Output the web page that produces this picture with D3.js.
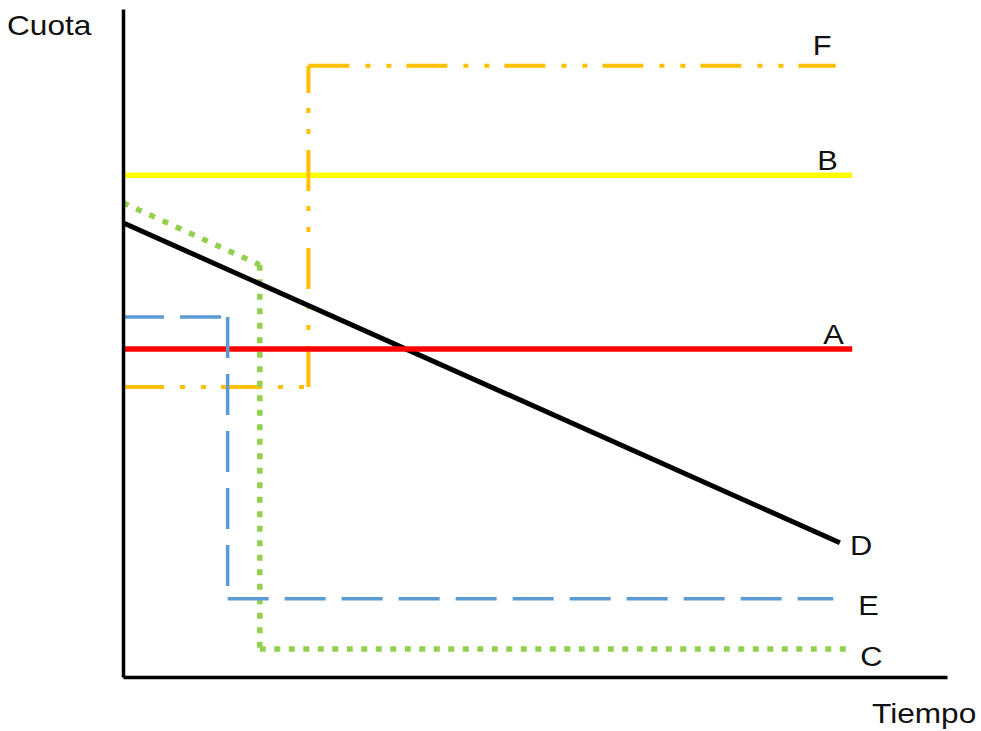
<!DOCTYPE html>
<head>
    <meta charset="utf-8">
    <script src="https://d3js.org/d3.v7.min.js"></script>
</head>
<style>
    body { margin: 0; background: #fff; }
    .axis text { display: none; }
    .axis path { stroke: #000; stroke-width: 3.5; }
    .lbl { font-family: "Liberation Sans", Arial, sans-serif; font-size: 28px; fill: #111; }
</style>
<body>
    <div id="chart"></div>
</body>

<script>
    // values (tiempo 0-100, cuota 0-100)
    const names = ["A", "B", "C", "D", "E", "F"];
    const lineA = [[0, 49.1], [88.5, 49.1]];
    const lineB = [[0, 75.1], [88.5, 75.1]];
    const lineC = [[0, 71.0], [16.6, 61.7], [16.6, 4.2], [88.5, 4.2]];
    const lineD = [[0, 68.0], [87.0, 20.1]];
    const lineE = [[0, 53.9], [12.7, 53.9], [12.7, 11.7], [86.2, 11.7]];
    const lineF = [[0, 43.4], [22.5, 43.4], [22.5, 91.5], [86.5, 91.5]];
    const xTitle = "Tiempo";
    const yTitle = "Cuota";

    const margin = {top: 9, right: 34, bottom: 54, left: 123},
        width = 981 - margin.left - margin.right,
        height = 731 - margin.top - margin.bottom;

    const svg = d3.select("#chart")
        .append("svg")
        .attr("width", 981)
        .attr("height", 731);

    const g = svg.append("g")
        .attr("transform", `translate(${margin.left},${margin.top})`);

    const x = d3.scaleLinear().domain([0, 100]).range([0, width]);
    const y = d3.scaleLinear().domain([0, 100]).range([height, 0]);

    // styles per line
    const styles = {
        A: {color: "#ff0000", w: 5.5, dash: null, dx: -29, dy: -5},
        B: {color: "#ffff00", w: 5.5, dash: null, dx: -35, dy: -5},
        C: {color: "#92d050", w: 5.5, dash: "6,8.5", dx: 8, dy: 17},
        D: {color: "#000000", w: 5, dash: null, dx: 10, dy: 12},
        E: {color: "#5b9bd5", w: 3.5, dash: "41,16", dx: 25, dy: 16},
        F: {color: "#ffc000", w: 4, dash: "41,16,5,16,5,15", dx: -23, dy: -11}
    };
    const lines = {A: lineA, B: lineB, C: lineC, D: lineD, E: lineE, F: lineF};

    const line = d3.line()
        .x(d => x(d[0]))
        .y(d => y(d[1]));

    // the dash pattern starts over at every corner, so each segment is its own path
    const drawOrder = ["B", "F", "C", "D", "A", "E"];
    drawOrder.forEach(n => {
        const s = styles[n];
        const pts = lines[n];
        const segs = d3.pairs(pts);
        g.selectAll(null)
            .data(segs)
            .join("path")
            .attr("d", line)
            .attr("fill", "none")
            .attr("stroke", s.color)
            .attr("stroke-width", s.w)
            .attr("stroke-dasharray", s.dash);
    });

    // axes: plain lines, no ticks
    g.append("g")
        .attr("class", "axis")
        .call(d3.axisLeft(y).tickValues([]).tickSizeOuter(0));
    g.append("g")
        .attr("class", "axis")
        .attr("transform", `translate(0,${height})`)
        .call(d3.axisBottom(x).tickValues([]).tickSizeOuter(0));

    // end labels
    names.forEach(n => {
        const pts = lines[n];
        const end = pts[pts.length - 1];
        const s = styles[n];
        g.append("text")
            .attr("class", "lbl")
            .attr("transform", `translate(${x(end[0]) + s.dx},${y(end[1]) + s.dy}) scale(1.1,1)`)
            .text(n);
    });

    svg.append("text")
        .attr("class", "lbl")
        .attr("transform", "translate(7,35) scale(1.13,1)")
        .text(yTitle);
    svg.append("text")
        .attr("class", "lbl")
        .attr("transform", "translate(872,723) scale(1.13,1)")
        .text(xTitle);
</script>
